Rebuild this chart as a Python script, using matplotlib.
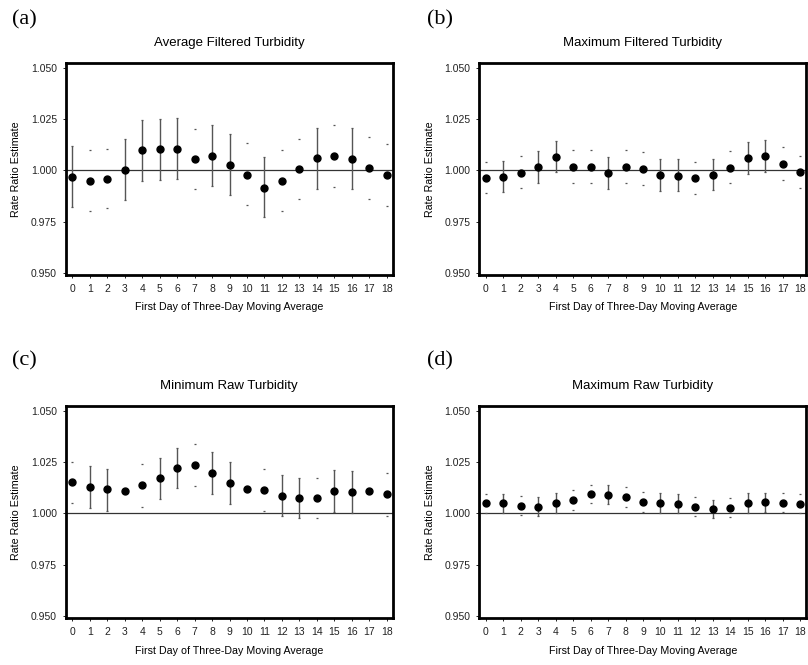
import matplotlib
matplotlib.use("Agg")
import matplotlib.pyplot as plt
import numpy as np

plt.rcParams["font.family"] = ["Liberation Sans", "DejaVu Sans"]

# Jours (premier jour de la moyenne mobile sur trois jours)
days = list(range(19))
y_ticks = [0.950, 0.975, 1.000, 1.025, 1.050]

titles = [
    "Average Filtered Turbidity",
    "Maximum Filtered Turbidity",
    "Minimum Raw Turbidity",
    "Maximum Raw Turbidity",
]
panel_letters = ["(a)", "(b)", "(c)", "(d)"]

# (a) Average Filtered Turbidity
est_a = [0.9969, 0.9948, 0.9958, 1.0001, 1.0097, 1.0102, 1.0105, 1.0056, 1.0071, 1.0026,
         0.9979, 0.9916, 0.9950, 1.0005, 1.0061, 1.0069, 1.0056, 1.0010, 0.9976]
lo_a = [0.9819, 0.9799, 0.9814, 0.9856, 0.9948, 0.9951, 0.9956, 0.9909, 0.9922, 0.9879,
        0.9833, 0.9770, 0.9803, 0.9859, 0.9911, 0.9920, 0.9908, 0.9861, 0.9825]
hi_a = [1.0121, 1.0097, 1.0102, 1.0155, 1.0247, 1.0252, 1.0255, 1.0203, 1.0220, 1.0179,
        1.0131, 1.0066, 1.0097, 1.0155, 1.0208, 1.0220, 1.0206, 1.0161, 1.0128]

# (b) Maximum Filtered Turbidity
est_b = [0.9963, 0.9968, 0.9988, 1.0017, 1.0065, 1.0015, 1.0017, 0.9987, 1.0015, 1.0007,
         0.9975, 0.9973, 0.9962, 0.9978, 1.0013, 1.0060, 1.0068, 1.0032, 0.9992]
lo_b = [0.9888, 0.9892, 0.9912, 0.9940, 0.9990, 0.9940, 0.9940, 0.9908, 0.9937, 0.9930,
        0.9898, 0.9898, 0.9882, 0.9902, 0.9937, 0.9983, 0.9992, 0.9955, 0.9912]
hi_b = [1.0043, 1.0047, 1.0068, 1.0095, 1.0145, 1.0097, 1.0097, 1.0065, 1.0097, 1.0087,
        1.0053, 1.0053, 1.0040, 1.0055, 1.0092, 1.0138, 1.0148, 1.0112, 1.0072]

# (c) Minimum Raw Turbidity
est_c = [1.0150, 1.0129, 1.0116, 1.0111, 1.0136, 1.0170, 1.0222, 1.0234, 1.0196, 1.0147,
         1.0118, 1.0114, 1.0083, 1.0075, 1.0075, 1.0108, 1.0106, 1.0111, 1.0092]
lo_c = [1.0049, 1.0026, 1.0013, 1.0010, 1.0033, 1.0070, 1.0121, 1.0134, 1.0096, 1.0046,
        1.0016, 1.0013, 0.9985, 0.9975, 0.9975, 1.0007, 1.0000, 1.0010, 0.9989]
hi_c = [1.0250, 1.0229, 1.0216, 1.0212, 1.0239, 1.0270, 1.0320, 1.0337, 1.0296, 1.0248,
        1.0220, 1.0216, 1.0188, 1.0173, 1.0173, 1.0209, 1.0206, 1.0212, 1.0198]

# (d) Maximum Raw Turbidity
est_d = [1.0049, 1.0049, 1.0037, 1.0032, 1.0050, 1.0065, 1.0092, 1.0091, 1.0079, 1.0055,
         1.0050, 1.0047, 1.0030, 1.0020, 1.0027, 1.0050, 1.0054, 1.0052, 1.0047]
lo_d = [1.0003, 1.0003, 0.9990, 0.9985, 1.0003, 1.0018, 1.0049, 1.0044, 1.0032, 1.0008,
        1.0003, 1.0000, 0.9985, 0.9975, 0.9982, 1.0003, 1.0008, 1.0005, 1.0000]
hi_d = [1.0096, 1.0096, 1.0084, 1.0079, 1.0099, 1.0112, 1.0139, 1.0136, 1.0126, 1.0104,
        1.0099, 1.0096, 1.0077, 1.0067, 1.0074, 1.0099, 1.0101, 1.0099, 1.0096]

# rendu des barres d'erreur dans l'original : 2 = trait complet, 1 = extremites seules, 0 = rien
show_a = [2, 1, 1, 2, 2, 2, 2, 1, 2, 2, 1, 2, 1, 1, 2, 1, 2, 1, 1]
show_b = [1, 2, 1, 2, 2, 1, 1, 2, 1, 1, 2, 2, 1, 2, 1, 2, 2, 1, 1]
show_c = [1, 2, 2, 0, 1, 2, 2, 1, 2, 2, 0, 1, 2, 2, 1, 2, 2, 0, 1]
show_d = [1, 2, 1, 2, 2, 1, 1, 2, 1, 1, 2, 2, 1, 2, 1, 2, 2, 1, 1]

panels = [
    (est_a, lo_a, hi_a, show_a),
    (est_b, lo_b, hi_b, show_b),
    (est_c, lo_c, hi_c, show_c),
    (est_d, lo_d, hi_d, show_d),
]

# positions des axes en fraction de figure [gauche, bas, largeur, hauteur]
axes_rects = [
    [0.0817, 0.5865, 0.4041, 0.3188],
    [0.5934, 0.5865, 0.4041, 0.3188],
    [0.0817, 0.0702, 0.4041, 0.3198],
    [0.5934, 0.0702, 0.4041, 0.3198],
]
letter_pos = [(0.015, 0.970), (0.529, 0.970), (0.015, 0.457), (0.529, 0.457)]

fig = plt.figure(figsize=(8.08, 6.65), dpi=100)

for i, (est, lo, hi, show) in enumerate(panels):
    ax = fig.add_axes(axes_rects[i])
    x = np.array(days)
    est = np.array(est)
    lo = np.array(lo)
    hi = np.array(hi)
    show = np.array(show)

    ax.axhline(1.0, color="#333333", linewidth=0.9, zorder=1)

    full = show == 2
    ax.vlines(x[full], lo[full], hi[full], color="#555555", linewidth=1.0, zorder=2)
    caps = show >= 1
    ax.scatter(x[caps], lo[caps], marker="_", s=3, color="#555555", linewidths=0.9, zorder=2)
    ax.scatter(x[caps], hi[caps], marker="_", s=3, color="#555555", linewidths=0.9, zorder=2)

    ax.plot(x, est, "o", color="black", markersize=5, zorder=3)

    ax.set_xlim(-0.36, 18.33)
    ax.set_ylim(0.9489, 1.0524)
    ax.set_xticks(days)
    ax.set_xticklabels([str(d) for d in days], fontsize=7.5)
    ax.set_yticks(y_ticks)
    ax.set_yticklabels([f"{v:.3f}" for v in y_ticks], fontsize=7.5)
    ax.tick_params(direction="out", length=2.5, width=0.7, pad=4, colors="#222222")
    for spine in ax.spines.values():
        spine.set_linewidth(2.0)
        spine.set_color("black")

    ax.set_title(titles[i], fontsize=9.5, pad=12)
    ax.set_xlabel("First Day of Three-Day Moving Average", fontsize=7.7, labelpad=6)
    ax.set_ylabel("Rate Ratio Estimate", fontsize=7.7, labelpad=7)

    fig.text(letter_pos[i][0], letter_pos[i][1], panel_letters[i], fontsize=16,
             family=["Liberation Serif", "DejaVu Serif"], va="center", ha="left")

fig.savefig("out.png", dpi=100)
